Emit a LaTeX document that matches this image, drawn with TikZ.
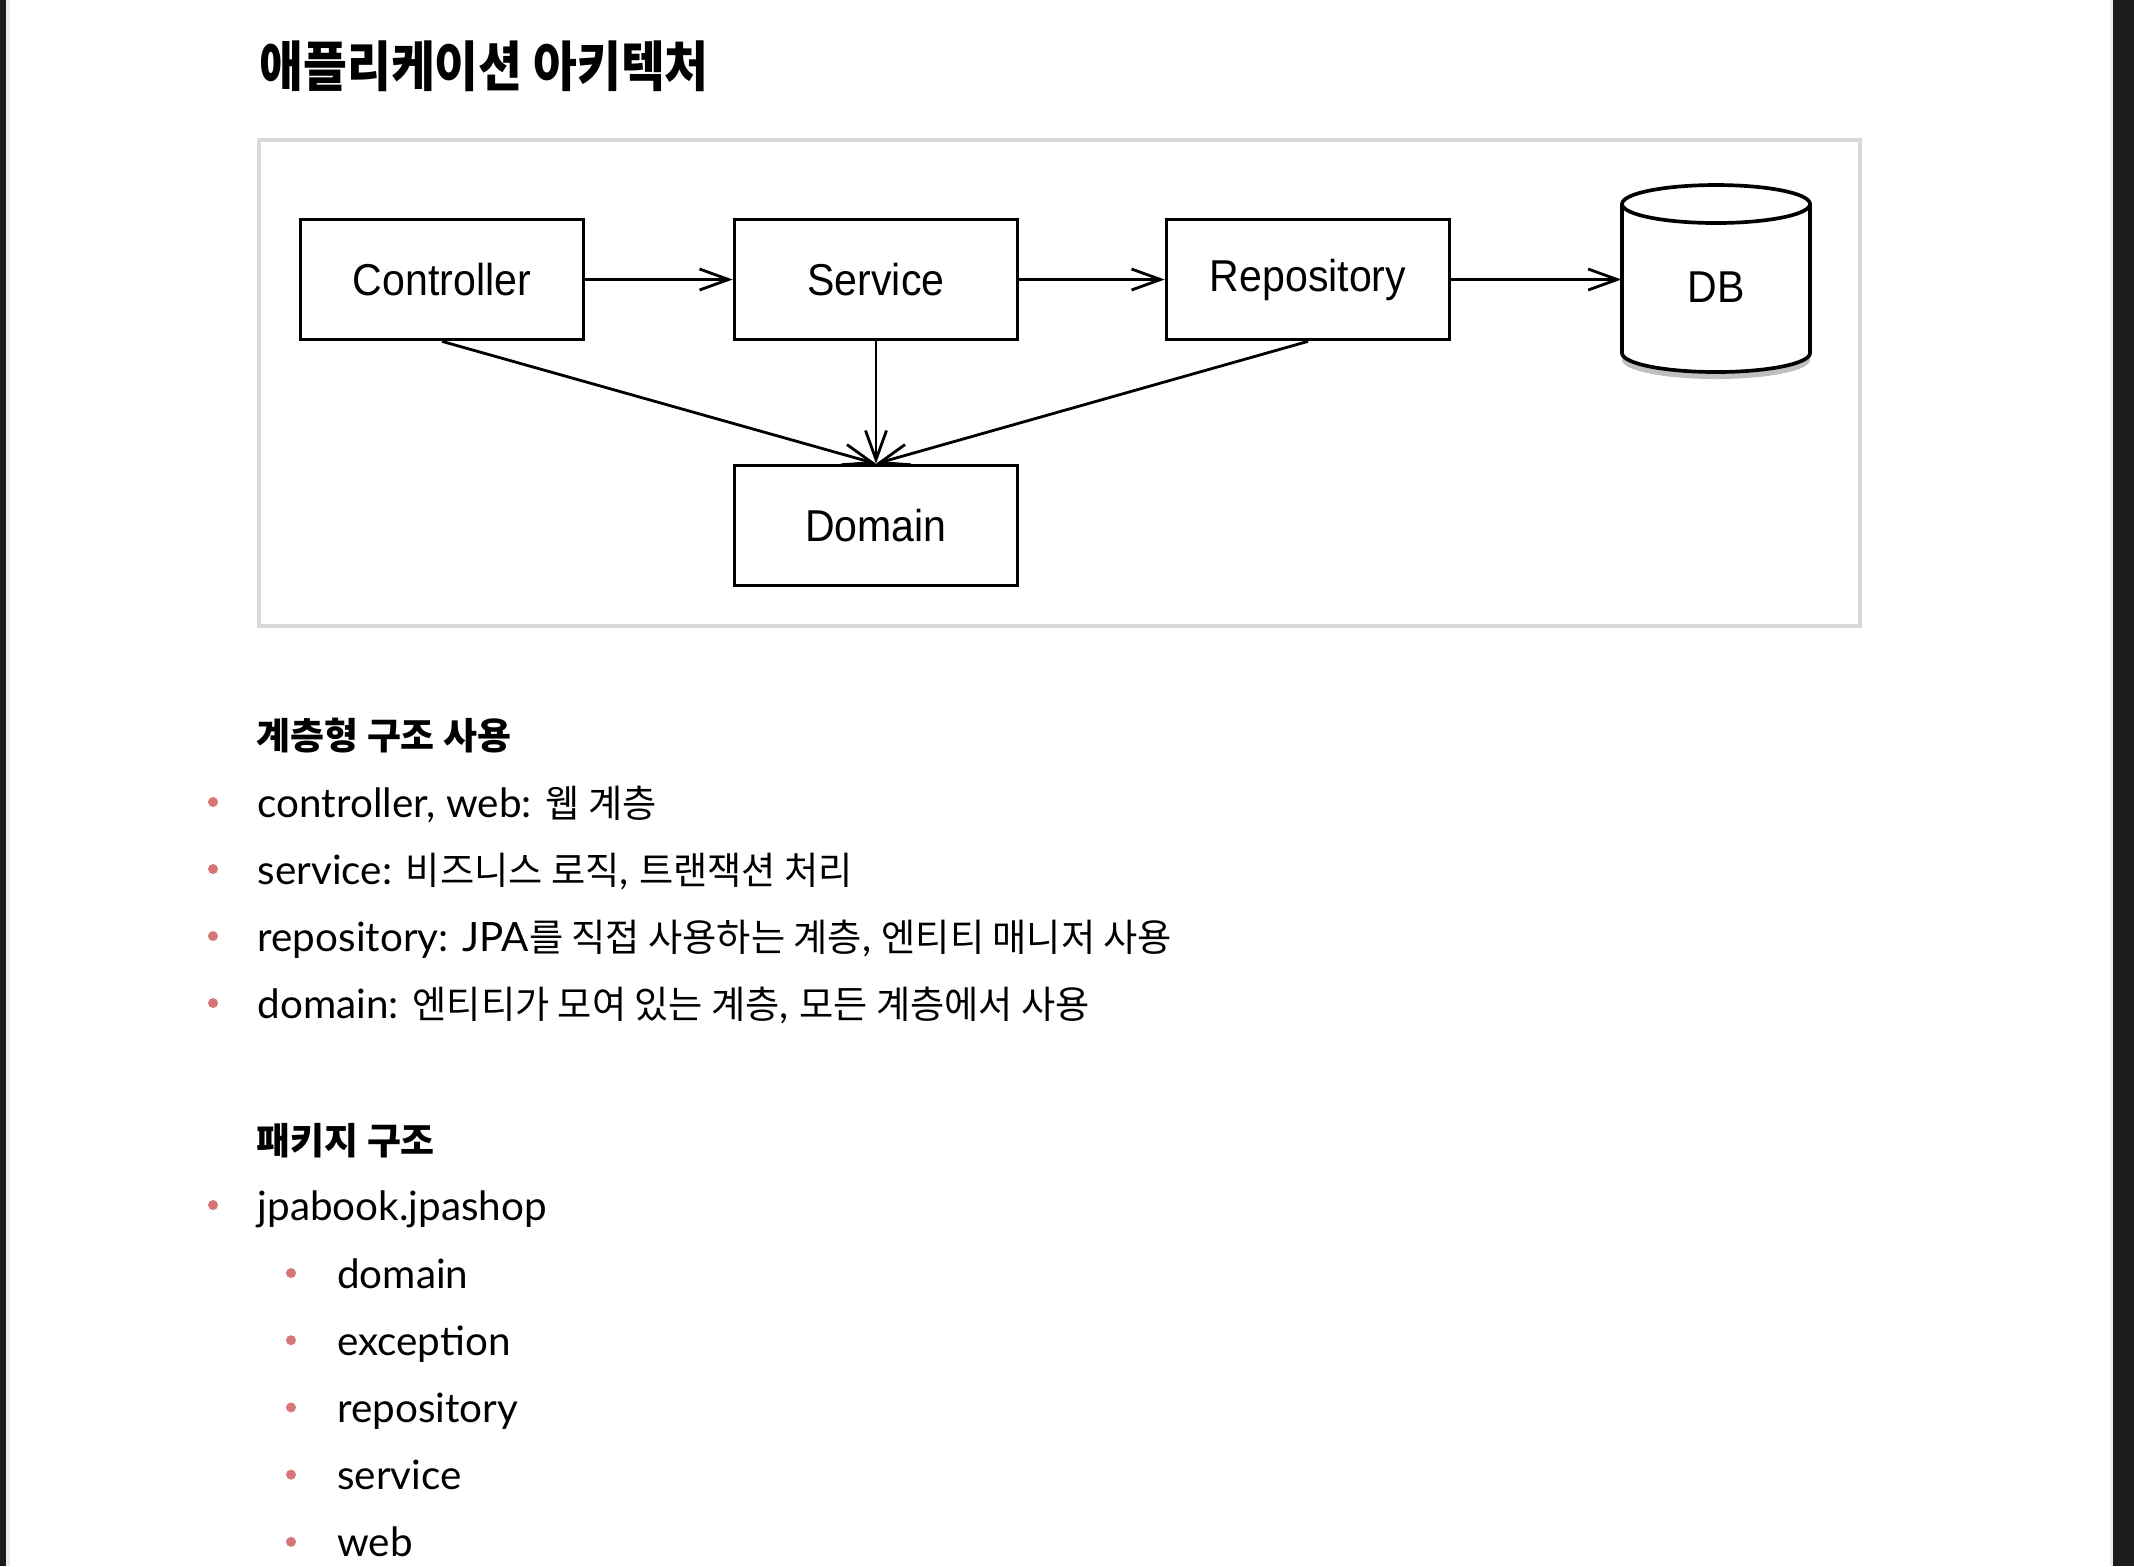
\documentclass[tikz,border=0pt]{standalone}
\usepackage{fontspec}
\setmainfont{Lato}
\newfontfamily\krfont[FakeStretch=0.98]{Noto Sans CJK KR}
\newfontfamily\krhead[FakeStretch=1.0]{Noto Sans CJK KR}
\newfontfamily\krtitle[FakeStretch=0.88]{Noto Sans CJK KR}
\newfontfamily\boxfont[FakeStretch=0.92]{Liberation Sans}
\newcommand\kr[1]{{\krfont\fontsize{10.8}{13}\selectfont #1}}
\usetikzlibrary{arrows.meta,calc,shadows}
\definecolor{pagedark}{RGB}{28,28,28}
\definecolor{edgegray}{RGB}{236,236,236}
\definecolor{framegray}{RGB}{218,218,218}
\definecolor{dotred}{RGB}{214,118,118}
\tikzset{
  >={Straight Barb[length=2.9mm,width=2.1mm]},
  box/.style={draw,line width=1.05pt,minimum width=2.83cm,minimum height=1.2cm,
    font=\boxfont\fontsize{12.7}{15}\selectfont},
  flow/.style={->,line width=0.8pt},
  head/.style={anchor=base west,inner sep=0,font=\krhead\bfseries\fontsize{10.5}{13}\selectfont},
  item/.style={anchor=base west,inner sep=0,font=\fontsize{11.5}{14}\selectfont},
  dot/.style={fill=dotred},
}
\begin{document}
\begin{tikzpicture}
  % page
  \fill[white] (0,0) rectangle (21.34,-15.66);
  \useasboundingbox (0,0) rectangle (21.34,-15.66);
  \fill[pagedark] (0,0) rectangle (0.06,-15.66);
  \fill[edgegray] (0.06,0) rectangle (0.10,-15.66);
  \fill[edgegray] (21.10,0) rectangle (21.13,-15.66);
  \fill[pagedark] (21.13,0) rectangle (21.34,-15.66);

  \node[anchor=west,inner sep=0,font=\krtitle\bfseries\fontsize{15.4}{18}\selectfont] (title) at (2.59,-0.665) {애플리케이션 아키텍처};

  % diagram
  \draw[framegray,line width=0.9pt] (2.59,-1.40) rectangle (18.60,-6.26);
  \node[box] (ctrl) at (4.42,-2.795) {Controller};
  \node[box] (svc) at (8.76,-2.795) {Service};
  \node[box] (repo) at (13.08,-2.795) {Repository};
  \node[box] (dom) at (8.76,-5.255) {Domain};
  \coordinate (dbc) at (17.16,-2.87);
  \path[fill=white,drop shadow={shadow xshift=0pt,shadow yshift=-2pt,opacity=0.5}]
    ($(dbc)+(-0.94,0.83)$) -- ++(0,-1.49) arc[start angle=180,end angle=360,x radius=0.94,y radius=0.19]
    -- ++(0,1.49) arc[start angle=0,end angle=180,x radius=0.94,y radius=0.19] -- cycle;
  \draw[line width=1.05pt] ($(dbc)+(-0.94,0.83)$) -- ++(0,-1.49) arc[start angle=180,end angle=360,x radius=0.94,y radius=0.19]
    -- ++(0,1.49) arc[start angle=0,end angle=180,x radius=0.94,y radius=0.19] -- cycle;
  \draw[line width=1.05pt] ($(dbc)+(-0.94,0.83)$) arc[start angle=180,end angle=360,x radius=0.94,y radius=0.19];
  \node[inner sep=0,minimum width=1.88cm,minimum height=1.4cm,font=\boxfont\fontsize{12.7}{15}\selectfont] (db) at (dbc) {DB};

  \draw[flow] (ctrl) -- (svc);
  \draw[flow] (svc) -- (repo);
  \draw[flow] (repo.east) -- (repo.east -| db.west);
  \draw[flow] (ctrl.south) -- (dom.north);
  \draw[flow] (svc) -- (dom);
  \draw[flow] (repo.south) -- (dom.north);

  % layers
  \node[head] (layers) at (2.56,-7.49) {계층형 구조 사용};
  \node[item] (it1) at (2.57,-8.17) {controller, web: \kr{웹 계층}};
  \node[item] (it2) at (2.57,-8.84) {service: \kr{비즈니스 로직}, \kr{트랜잭션 처리}};
  \node[item] (it3) at (2.57,-9.51) {repository: JPA\kr{를 직접 사용하는 계층}, \kr{엔티티 매니저 사용}};
  \node[item] (it4) at (2.57,-10.18) {domain: \kr{엔티티가 모여 있는 계층}, \kr{모든 계층에서 사용}};
  \foreach \n in {it1,it2,it3,it4}
    \fill[dot] ($(\n.base west)+(-0.44,0.15)$) circle (0.05);

  % packages
  \node[head] (pkg) at (2.56,-11.54) {패키지 구조};
  \node[item] (root) at (2.57,-12.20) {jpabook.jpashop};
  \fill[dot] ($(root.base west)+(-0.44,0.15)$) circle (0.05);
  \foreach \name [count=\i] in {domain,exception,repository,service,web} {
    \node[item] (sub\i) at (3.365,-12.88-0.672*\i+0.672) {\name};
    \fill[dot] ($(sub\i.base west)+(-0.455,0.15)$) circle (0.05);
  }
\end{tikzpicture}
\end{document}
